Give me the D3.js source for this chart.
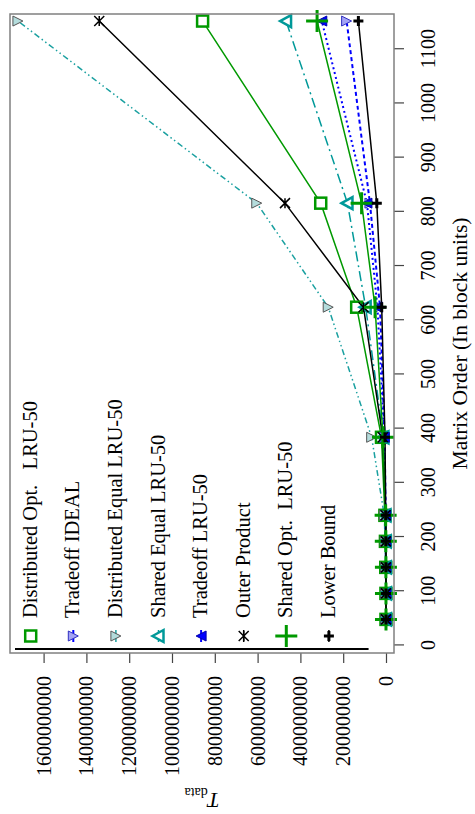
<!DOCTYPE html>
<html>
<head>
<meta charset="utf-8">
<script src="https://cdn.jsdelivr.net/npm/d3@7"></script>
<style>
  body { margin: 0; background: #fff; }
  text { font-family: "Liberation Serif", "DejaVu Serif", serif; }
</style>
</head>
<body>
<svg width="475" height="814"></svg>
<script>
// matrix orders (block units)
var orders = [48, 96, 144, 192, 240, 384, 624, 816, 1152];

var distOpt     = [40000, 310000, 1100000, 2600000, 5100000, 21000000, 137000000, 305000000, 857000000];
var tradeIdeal  = [12000, 100000, 330000, 780000, 1500000, 6300000, 28000000, 75000000, 184000000];
var distEqual   = [60000, 480000, 1700000, 4000000, 8000000, 67000000, 270000000, 604000000, 1720000000];
var sharedEqual = [20000, 170000, 560000, 1300000, 2600000, 12000000, 95000000, 180000000, 467000000];
var tradeLru    = [15000, 120000, 400000, 950000, 1850000, 8000000, 40000000, 89000000, 300000000];
var outerProd   = [18000, 140000, 480000, 1100000, 2200000, 15000000, 105000000, 472000000, 1340000000];
var sharedOpt   = [14000, 110000, 370000, 880000, 1700000, 14000000, 51000000, 114000000, 322000000];
var lowerBound  = [9000, 73000, 246000, 583000, 1140000, 4700000, 20000000, 43000000, 129000000];

var seriesNames = ["Distributed Opt.   LRU-50", "Tradeoff IDEAL", "Distributed Equal LRU-50",
  "Shared Equal LRU-50", "Tradeoff LRU-50", "Outer Product", "Shared Opt.  LRU-50", "Lower Bound"];

var xTicks = [0, 100, 200, 300, 400, 500, 600, 700, 800, 900, 1000, 1100];
var yTicks = [0, 200000000, 400000000, 600000000, 800000000, 1000000000, 1200000000, 1400000000, 1600000000];

var series = [distOpt, tradeIdeal, distEqual, sharedEqual, tradeLru, outerProd, sharedOpt, lowerBound];

// styles, one per series
var styles = [
  {color: "#009900", width: 1.5, dash: null, mark: "square"},
  {color: "#0000ff", width: 2, dash: "4,3", mark: "triDownIdeal"},
  {color: "#1aa0a0", width: 1.5, dash: "6,3,1.5,3,1.5,3", mark: "triDownEq"},
  {color: "#009999", width: 1.5, dash: "10,4,2,4", mark: "triUpOpen"},
  {color: "#0000ff", width: 2, dash: "2,3", mark: "triUpFill"},
  {color: "#000000", width: 1.5, dash: null, mark: "star"},
  {color: "#009900", width: 1.5, dash: null, mark: "bigPlus"},
  {color: "#000000", width: 1.5, dash: null, mark: "smallPlus"}
];

var svg = d3.select("svg");
// the whole plot is drawn upright, then turned a quarter turn counter-clockwise
var W = 814, H = 475;
var g = svg.append("g").attr("transform", "translate(0," + W + ") rotate(-90)");

var margin = {left: 161, right: 14, top: 10, bottom: 81};
var x = d3.scaleLinear().domain([-14, 1165]).range([margin.left, W - margin.right]);
var y = d3.scaleLinear().domain([-37400000, 1757000000]).range([H - margin.bottom, margin.top]);

function drawMark(sel, type) {
  if (type == "square") {
    sel.append("rect").attr("x", -5.5).attr("y", -5.5).attr("width", 11).attr("height", 11)
      .attr("fill", "#fff").attr("stroke", "#009900").attr("stroke-width", 2.5);
  } else if (type == "triDownIdeal") {
    sel.append("path").attr("d", "M-5,-5L5,-5L0,5Z")
      .attr("fill", "#a3a3f5").attr("stroke", "#3030c0").attr("stroke-width", 1);
  } else if (type == "triDownEq") {
    sel.append("path").attr("d", "M-5,-5L5,-5L0,5Z")
      .attr("fill", "#b4dcdc").attr("stroke", "#555").attr("stroke-width", 1);
  } else if (type == "triUpOpen") {
    sel.append("path").attr("d", "M0,-6L6,5L-6,5Z")
      .attr("fill", "#fff").attr("stroke", "#009999").attr("stroke-width", 2.5);
  } else if (type == "triUpFill") {
    sel.append("path").attr("d", "M0,-5L5,5L-5,5Z")
      .attr("fill", "#0000ff").attr("stroke", "#0000aa").attr("stroke-width", 1);
  } else if (type == "star") {
    sel.append("path").attr("d", "M-5,-5L5,5M-5,5L5,-5M-5,0L5,0")
      .attr("stroke", "#000").attr("stroke-width", 1.5);
  } else if (type == "bigPlus") {
    sel.append("path").attr("d", "M-11,0L11,0M0,-11L0,11")
      .attr("stroke", "#009900").attr("stroke-width", 3);
  } else if (type == "smallPlus") {
    sel.append("path").attr("d", "M-5,0L5,0M0,-5L0,5")
      .attr("stroke", "#000").attr("stroke-width", 3);
  }
}

var line = d3.line()
  .x(function(d) { return x(d[0]); })
  .y(function(d) { return y(d[1]); });

// axes
var xAxis = g.append("g")
  .attr("transform", "translate(0," + (H - margin.bottom) + ")")
  .call(d3.axisBottom(x).tickValues(xTicks).tickSize(10).tickSizeOuter(0).tickPadding(17)
    .tickFormat(d3.format("d")));
var yAxis = g.append("g")
  .attr("transform", "translate(" + margin.left + ",0)")
  .call(d3.axisLeft(y).tickValues(yTicks).tickSize(10).tickSizeOuter(0).tickPadding(13)
    .tickFormat(d3.format("d")));

[xAxis, yAxis].forEach(function(a) {
  a.select(".domain").remove();
  a.selectAll(".tick line").attr("stroke", "#444").attr("stroke-width", 1.2);
  a.selectAll(".tick text").attr("font-size", 20).attr("fill", "#000")
    .style("font-family", "'Liberation Serif', serif");
});

// data lines + points
series.forEach(function(vals, i) {
  var pts = orders.map(function(o, j) { return [o, vals[j]]; });
  var st = styles[i];
  g.append("path")
    .datum(pts)
    .attr("d", line)
    .attr("fill", "none")
    .attr("stroke", st.color)
    .attr("stroke-width", st.width)
    .attr("stroke-dasharray", st.dash);
});
series.forEach(function(vals, i) {
  g.selectAll("g.m" + i)
    .data(orders.map(function(o, j) { return [o, vals[j]]; }))
    .enter()
    .append("g")
    .attr("class", "m" + i)
    .attr("transform", function(d) { return "translate(" + x(d[0]) + "," + y(d[1]) + ")"; })
    .each(function() { drawMark(d3.select(this), styles[i].mark); });
});

// border
g.append("rect")
  .attr("x", margin.left).attr("y", margin.top)
  .attr("width", W - margin.left - margin.right)
  .attr("height", H - margin.top - margin.bottom)
  .attr("fill", "none").attr("stroke", "#808080").attr("stroke-width", 1.5);

// key
var keyX = margin.left + 17, keyY = margin.top + 20.7, keyStep = 42.6;
g.append("line")
  .attr("x1", margin.left + 4).attr("x2", margin.left + 4)
  .attr("y1", margin.top + 5).attr("y2", margin.top + 5 + keyStep * 8.3)
  .attr("stroke", "#000").attr("stroke-width", 2);

seriesNames.forEach(function(name, i) {
  var k = g.append("g").attr("transform", "translate(" + keyX + "," + (keyY + i * keyStep) + ")");
  var st = styles[i];
  k.append("line").attr("x1", -6).attr("x2", 6)
    .attr("stroke", st.color).attr("stroke-width", st.width);
  drawMark(k, st.mark);
  k.append("text")
    .attr("x", 18).attr("y", 6)
    .attr("font-size", 20.5)
    .style("white-space", "pre")
    .text(name);
});

// axis titles
g.append("text")
  .attr("x", (margin.left + W - margin.right) / 2 - 10)
  .attr("y", 467)
  .attr("text-anchor", "middle")
  .attr("font-size", 21.5)
  .text("Matrix Order (In block units)");

var yl = g.append("text")
  .attr("transform", "translate(21," + (margin.top + H - margin.bottom) / 2 + ") rotate(-90)")
  .attr("text-anchor", "middle")
  .attr("font-size", 21);
yl.append("tspan").attr("font-style", "italic").text("T");
yl.append("tspan").attr("font-size", 14).attr("dy", 5).text("data");
</script>
</body>
</html>
